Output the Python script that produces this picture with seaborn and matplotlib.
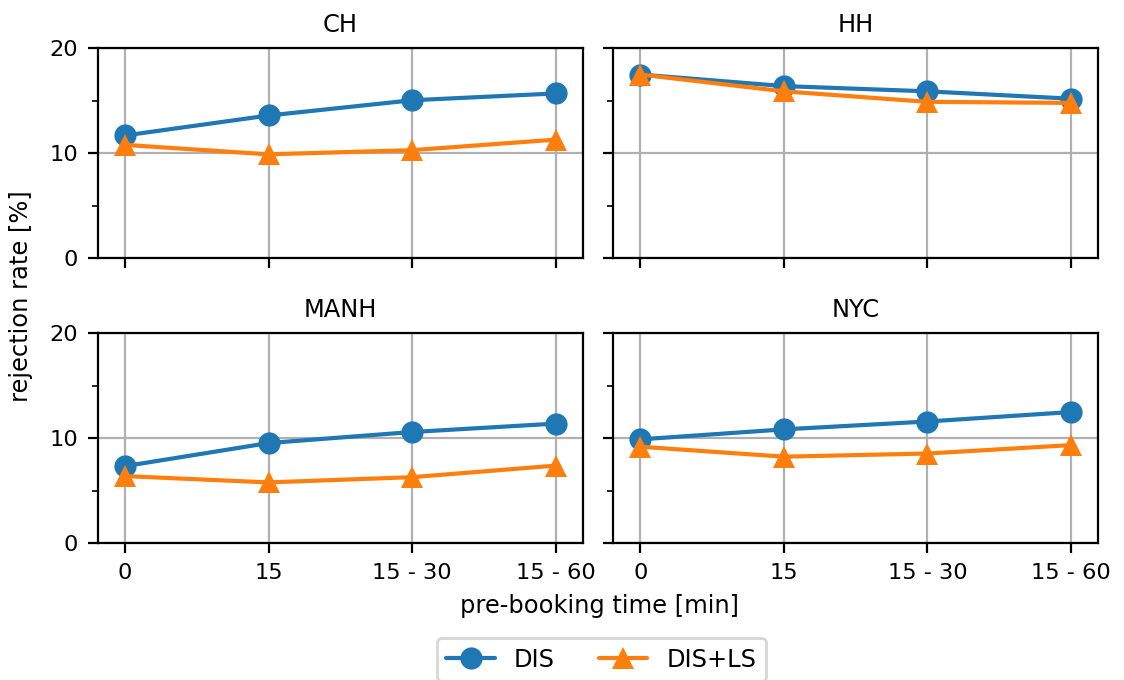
import matplotlib
matplotlib.use("Agg")
import matplotlib.pyplot as plt
from matplotlib.ticker import MultipleLocator
from matplotlib.lines import Line2D
import seaborn as sns
import pandas as pd

cities = ["CH", "HH", "MANH", "NYC"]
prebooking = ["0", "15", "15 - 30", "15 - 60"]
dis_ch = [11.7, 13.6, 15.05, 15.7]
disls_ch = [10.8, 9.9, 10.3, 11.3]
dis_hh = [17.5, 16.4, 15.9, 15.2]
disls_hh = [17.5, 15.9, 14.9, 14.8]
dis_manh = [7.35, 9.55, 10.6, 11.4]
disls_manh = [6.4, 5.8, 6.3, 7.4]
dis_nyc = [9.9, 10.85, 11.6, 12.5]
disls_nyc = [9.2, 8.25, 8.55, 9.35]
methods = ["DIS", "DIS+LS"]

series = {
    "CH": (dis_ch, disls_ch),
    "HH": (dis_hh, disls_hh),
    "MANH": (dis_manh, disls_manh),
    "NYC": (dis_nyc, disls_nyc),
}

rows = []
for city in cities:
    for m, vals in zip(methods, series[city]):
        for x, v in zip(prebooking, vals):
            rows.append({"city": city, "method": m, "prebooking": x, "rate": v})
df = pd.DataFrame(rows)

sns.set_style("white")
plt.rcParams["font.family"] = ["DejaVu Sans"]
plt.rcParams["text.color"] = "black"
plt.rcParams["axes.labelcolor"] = "black"
plt.rcParams["font.size"] = 8

LBL = 8.7
TCK = 8.1

fig, axes = plt.subplots(2, 2, figsize=(5.62, 3.4), dpi=200, sharex=True, sharey=True)
fig.subplots_adjust(left=0.087, right=0.977, top=0.929, bottom=0.201, wspace=0.062, hspace=0.357)

palette = {"DIS": "#1f77b4", "DIS+LS": "#ff7f0e"}
markers = {"DIS": "o", "DIS+LS": "^"}

for ax, city in zip(axes.flat, cities):
    sub = df[df.city == city]
    sns.lineplot(data=sub, x="prebooking", y="rate", hue="method", style="method",
                 palette=palette, markers=markers, dashes=False, markersize=8,
                 markeredgewidth=0, linewidth=1.5, ax=ax, legend=False, zorder=3)
    ax.set_title(city, fontsize=LBL, color="black", pad=6)
    ax.set_xlabel("")
    ax.set_ylabel("")
    ax.set_ylim(0, 20)
    ax.set_xlim(-0.19, 3.19)
    ax.yaxis.set_major_locator(MultipleLocator(10))
    ax.yaxis.set_minor_locator(MultipleLocator(5))
    ax.grid(True, which="major", color="#b0b0b0", linewidth=0.8)
    ax.tick_params(which="both", direction="out", left=True, bottom=True, labelsize=TCK, colors="black")
    ax.tick_params(which="major", length=3.5, width=0.8)
    ax.tick_params(which="minor", length=2, width=0.6)
    for s in ax.spines.values():
        s.set_color("black")
        s.set_linewidth(0.8)

fig.text(0.533, 0.109, "pre-booking time [min]", ha="center", va="center", fontsize=LBL, color="black")
fig.text(0.019, 0.565, "rejection rate [%]", ha="center", va="center", rotation=90, fontsize=LBL, color="black")

handles = [Line2D([], [], color=palette[m], marker=markers[m], markersize=8, markeredgewidth=0, linewidth=1.5) for m in methods]
fig.legend(handles, methods, loc="center", bbox_to_anchor=(0.535, 0.03), ncol=2, fontsize=LBL,
           frameon=True, edgecolor="#cccccc", fancybox=True, handlelength=2.0, columnspacing=1.8)

fig.savefig("out.png", dpi=200)
